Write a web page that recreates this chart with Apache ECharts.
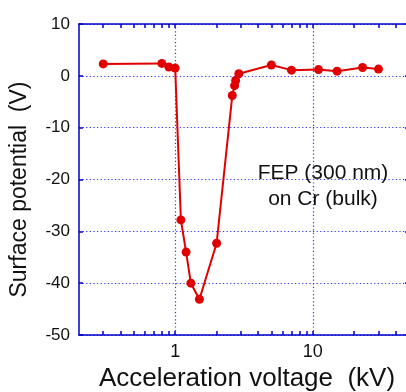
<!DOCTYPE html>
<html><head><meta charset="utf-8">
<script src="https://cdn.jsdelivr.net/npm/echarts@6/dist/echarts.min.js"></script>
<style>html,body{margin:0;padding:0;background:#fff}#c{width:406px;height:392px}</style>
</head><body><div id="c"></div>
<script>
const voltage = [0.3, 0.8, 0.9, 1.0, 1.1, 1.2, 1.3, 1.5, 2.0, 2.6, 2.7, 2.75, 2.9, 5, 7, 11, 15, 23, 30];
const potential = [2.3, 2.4, 1.7, 1.5, -27.8, -34.0, -40.0, -43.1, -32.3, -3.8, -1.9, -0.9, 0.4, 2.1, 1.1, 1.2, 0.9, 1.6, 1.3];
const xLabels = [1, 10];
const xTicks = [0.3,0.4,0.5,0.6,0.7,0.8,0.9,1,2,3,4,5,6,7,8,9,10,20,30,40];
const yTicks = [-50, -40, -30, -20, -10, 0, 10];

const FONT = 'Liberation Sans, Arial, sans-serif';
const AX = '#0000cc';
const GRIDC = '#3030ff';
const chart = echarts.init(document.getElementById('c'));
const xBase = {type:'log', logBase:10, min:0.2, max:50, gridIndex:0};
chart.setOption({
  animation:false,
  grid:{left:79, top:24, right:-3, bottom:57, containLabel:false, outerBoundsMode:'none'},
  xAxis:[
    Object.assign({}, xBase, {position:'bottom',
      name:'Acceleration voltage  (kV)', nameLocation:'middle', nameGap:28,
      nameTextStyle:{fontFamily:FONT, fontSize:26, color:'#111', padding:[0,0,0,6]},
      axisLine:{show:true, onZero:false, lineStyle:{color:AX, width:1.5}},
      axisTick:{show:false, customValues:xLabels},
      axisLabel:{customValues:xLabels, fontFamily:FONT, fontSize:18, color:'#111', margin:8},
      splitLine:{show:true, lineStyle:{color:GRIDC, type:[1.2,2.4], width:1.2}}
    }),
    Object.assign({}, xBase, {position:'bottom',
      axisLine:{show:false, onZero:false}, axisLabel:{show:false}, splitLine:{show:false},
      axisTick:{show:true, inside:true, length:4, customValues:xTicks, lineStyle:{color:AX, width:1.5}}
    }),
    Object.assign({}, xBase, {position:'top',
      axisLine:{show:true, onZero:false, lineStyle:{color:AX, width:1.5}}, axisLabel:{show:false}, splitLine:{show:false},
      axisTick:{show:true, inside:true, length:4, customValues:xTicks, lineStyle:{color:AX, width:1.5}}
    })
  ],
  yAxis:[
    {type:'value', min:-50, max:10, interval:10, position:'left',
      name:'Surface potential  (V)', nameLocation:'middle', nameGap:48,
      nameTextStyle:{fontFamily:FONT, fontSize:23, color:'#111', padding:[0,20,0,0]},
      axisLine:{show:true, onZero:false, lineStyle:{color:AX, width:1.5}},
      axisTick:{show:true, inside:true, length:4, customValues:yTicks, lineStyle:{color:AX, width:1.5}},
      axisLabel:{customValues:yTicks, fontFamily:FONT, fontSize:17, color:'#111', margin:9},
      splitLine:{show:true, lineStyle:{color:GRIDC, type:[1.2,2.4], width:1.2}}
    },
    {type:'value', min:-50, max:10, interval:10, position:'right',
      axisLine:{show:true, onZero:false, lineStyle:{color:AX, width:1.5}},
      axisTick:{show:true, inside:true, length:4, lineStyle:{color:AX, width:1.5}},
      axisLabel:{show:false}, splitLine:{show:false}
    }
  ],
  graphic:[
    {type:'text', style:{text:'FEP (300 nm)', font:'21px '+FONT, fill:'#111', align:'center', verticalAlign:'middle', x:323, y:173}},
    {type:'text', style:{text:'on Cr (bulk)', font:'21px '+FONT, fill:'#111', align:'center', verticalAlign:'middle', x:323, y:199}}
  ],
  series:[{
    type:'line', xAxisIndex:0, yAxisIndex:0,
    data: voltage.map((v,i)=>[v, potential[i]]),
    symbol:'circle', symbolSize:9,
    lineStyle:{color:'#e00000', width:2},
    itemStyle:{color:'#e00000'}
  }]
});
</script></body></html>
